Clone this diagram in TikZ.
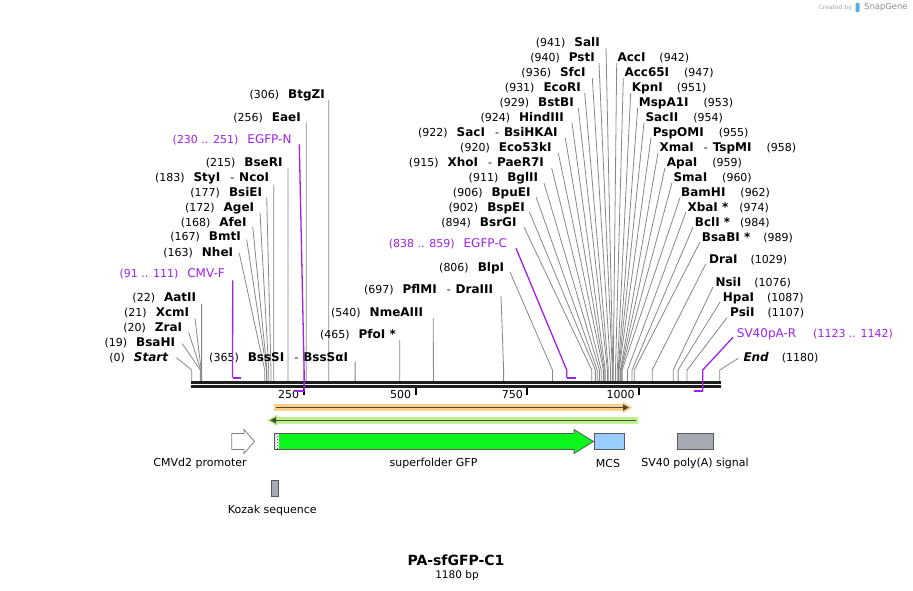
\documentclass[tikz,border=0pt]{standalone}
\usepackage{fontspec}
\setmainfont{DejaVu Sans}
\usepackage{tikz}
\usetikzlibrary{arrows.meta,patterns}
\definecolor{primerviolet}{RGB}{160,32,240}
\definecolor{cutgray}{RGB}{135,135,135}
\definecolor{gfpgreen}{RGB}{12,245,28}
\definecolor{mcsblue}{RGB}{153,204,255}
\definecolor{polyagray}{RGB}{166,170,178}
\definecolor{orfband}{RGB}{255,208,135}
\definecolor{orfbandtwo}{RGB}{192,240,140}
\definecolor{orfline}{RGB}{75,72,60}
\definecolor{logoblue}{RGB}{90,175,235}
\newcommand{\enz}[1]{{\fontsize{12}{14}\selectfont\bfseries #1}}

\begin{document}
\begin{tikzpicture}[x=1pt,y=-1pt,
		lbl/.style={inner sep=0pt,text height=8.8pt,text depth=0pt,font=\fontsize{11}{13}\selectfont},
		primerlbl/.style={lbl,text=primerviolet},
		cut/.style={draw=cutgray,line width=0.8pt},
		primer/.style={draw=primerviolet,line width=1.3pt},
		primerbar/.style={draw=primerviolet,line width=2.2pt},
		backbone/.style={draw=black!88,line width=2.6pt},
		tick/.style={draw=black,line width=2pt},
		feat/.style={draw=black!65,line width=0.8pt},
		featlbl/.style={inner sep=0pt,font=\fontsize{11}{13}\selectfont}]
		\useasboundingbox (0,0) rectangle (913,591);
		%snittsteder langs sekvensen
		\foreach \p in {0,19,20,21,22,91,111,163,167,168,172,177,183,215,230,251,256,306,365,465,540,697,806,838,859,894,902,906,911,915,920,922,924,929,931,936,940,941,942,947,951,953,954,955,958,959,960,962,974,984,989,1029,1076,1087,1107,1123,1142,1180}
			\coordinate (s\p) at ({191.8+0.4474*\p},370);
		\coordinate (bb) at (0,381.3);
		\coordinate (pf) at (0,377.7);
		\coordinate (pr) at (0,391);

		%venstre side
		\node[lbl,anchor=east] (startlbl) at (168.3,356.7) {(0)\hspace{9pt}\enz{\itshape Start}};
		\draw[cut] ([shift={(8,1)}]startlbl.east) -- (s0) -- (s0 |- bb);
		\node[lbl,anchor=east] (bsahi) at (175.3,341.7) {(19)\hspace{9pt}\enz{BsaHI}};
		\draw[cut] ([shift={(7,2)}]bsahi.east) -- (s19) -- (s19 |- bb);
		\node[lbl,anchor=east] (zrai) at (182.3,326.7) {(20)\hspace{9pt}\enz{ZraI}};
		\draw[cut] ([shift={(6.4,5.7)}]zrai.east) -- (s20) -- (s20 |- bb);
		\node[lbl,anchor=east] (xcmi) at (189.3,311.7) {(21)\hspace{9pt}\enz{XcmI}};
		\draw[cut] ([shift={(5.7,6.7)}]xcmi.east) -- (s21) -- (s21 |- bb);
		\node[lbl,anchor=east] (aatii) at (196.3,296.7) {(22)\hspace{9pt}\enz{AatII}};
		\draw[cut] ([shift={(5.3,7)}]aatii.east) -- (s22) -- (s22 |- bb);
		\node[lbl,anchor=east] (nhei) at (233.3,251.7) {(163)\hspace{9pt}\enz{NheI}};
		\draw[cut] ([shift={(6,1.6)}]nhei.east) -- (s163) -- (s163 |- bb);
		\node[lbl,anchor=east] (bmti) at (241,236.5) {(167)\hspace{9pt}\enz{BmtI}};
		\draw[cut] ([shift={(5.7,3)}]bmti.east) -- (s167) -- (s167 |- bb);
		\node[lbl,anchor=east] (afei) at (246.7,221.7) {(168)\hspace{9pt}\enz{AfeI}};
		\draw[cut] ([shift={(6,5)}]afei.east) -- (s168) -- (s168 |- bb);
		\node[lbl,anchor=east] (agei) at (254.3,206.7) {(172)\hspace{9pt}\enz{AgeI}};
		\draw[cut] ([shift={(5.7,6)}]agei.east) -- (s172) -- (s172 |- bb);
		\node[lbl,anchor=east] (bsiei) at (262.3,191.7) {(177)\hspace{9pt}\enz{BsiEI}};
		\draw[cut] ([shift={(4.4,5.6)}]bsiei.east) -- (s177) -- (s177 |- bb);
		\node[lbl,anchor=east] (styi) at (269.3,176.7) {(183)\hspace{9pt}\enz{StyI}\hspace{10pt}-\hspace{5pt}\enz{NcoI}};
		\draw[cut] ([shift={(4.4,8)}]styi.east) -- (s183) -- (s183 |- bb);
		\node[lbl,anchor=east] (bseri) at (282.7,161.7) {(215)\hspace{9pt}\enz{BseRI}};
		\draw[cut] ([shift={(5.3,7)}]bseri.east) -- (s215) -- (s215 |- bb);
		\node[lbl,anchor=east] (eaei) at (301,116.7) {(256)\hspace{9pt}\enz{EaeI}};
		\draw[cut] ([shift={(5.3,6)}]eaei.east) -- (s256) -- (s256 |- bb);
		\node[lbl,anchor=east] (btgzi) at (325,94) {(306)\hspace{9pt}\enz{BtgZI}};
		\draw[cut] ([shift={(3.7,6)}]btgzi.east) -- (s306) -- (s306 |- bb);
		\node[lbl,anchor=east] (bsssi) at (348.3,356.7) {(365)\hspace{9pt}\enz{BssSI}\hspace{10pt}-\hspace{5pt}\enz{BssSαI}};
		\draw[cut] ([shift={(6.8,5)}]bsssi.east) -- (s365) -- (s365 |- bb);
		\node[lbl,anchor=east] (pfoi) at (396,334) {(465)\hspace{9pt}\enz{PfoI *}};
		\draw[cut] ([shift={(3.8,6)}]pfoi.east) -- (s465) -- (s465 |- bb);
		\node[lbl,anchor=east] (nmeaiii) at (423.3,312) {(540)\hspace{9pt}\enz{NmeAIII}};
		\draw[cut] ([shift={(10,6)}]nmeaiii.east) -- (s540) -- (s540 |- bb);
		\node[lbl,anchor=east] (pflmi) at (493.3,289) {(697)\hspace{9pt}\enz{PflMI}\hspace{10pt}-\hspace{5pt}\enz{DraIII}};
		\draw[cut] ([shift={(7.7,7)}]pflmi.east) -- (s697) -- (s697 |- bb);
		\node[lbl,anchor=east] (blpi) at (504.3,266.7) {(806)\hspace{9pt}\enz{BlpI}};
		\draw[cut] ([shift={(5.7,5.3)}]blpi.east) -- (s806) -- (s806 |- bb);
		\node[lbl,anchor=east] (bsrgi) at (516.7,221.7) {(894)\hspace{9pt}\enz{BsrGI}};
		\draw[cut] ([shift={(7.3,5.3)}]bsrgi.east) -- (s894) -- (s894 |- bb);
		\node[lbl,anchor=east] (bspei) at (525,206.7) {(902)\hspace{9pt}\enz{BspEI}};
		\draw[cut] ([shift={(4.3,5)}]bspei.east) -- (s902) -- (s902 |- bb);
		\node[lbl,anchor=east] (bpuei) at (530.7,191.7) {(906)\hspace{9pt}\enz{BpuEI}};
		\draw[cut] ([shift={(5.5,5.5)}]bpuei.east) -- (s906) -- (s906 |- bb);
		\node[lbl,anchor=east] (bglii) at (538.3,176.7) {(911)\hspace{9pt}\enz{BglII}};
		\draw[cut] ([shift={(5.7,6.3)}]bglii.east) -- (s911) -- (s911 |- bb);
		\node[lbl,anchor=east] (xhoi) at (544,161.7) {(915)\hspace{9pt}\enz{XhoI}\hspace{10pt}-\hspace{5pt}\enz{PaeR7I}};
		\draw[cut] ([shift={(7.7,6.3)}]xhoi.east) -- (s915) -- (s915 |- bb);
		\node[lbl,anchor=east] (ecoki) at (551.7,146.7) {(920)\hspace{9pt}\enz{Eco53kI}};
		\draw[cut] ([shift={(6.6,6.3)}]ecoki.east) -- (s920) -- (s920 |- bb);
		\node[lbl,anchor=east] (saci) at (557.7,131.7) {(922)\hspace{9pt}\enz{SacI}\hspace{10pt}-\hspace{5pt}\enz{BsiHKAI}};
		\draw[cut] ([shift={(7.6,6.3)}]saci.east) -- (s922) -- (s922 |- bb);
		\node[lbl,anchor=east] (hindiii) at (564,116.7) {(924)\hspace{9pt}\enz{HindIII}};
		\draw[cut] ([shift={(8,6.3)}]hindiii.east) -- (s924) -- (s924 |- bb);
		\node[lbl,anchor=east] (bstbi) at (574,101.7) {(929)\hspace{9pt}\enz{BstBI}};
		\draw[cut] ([shift={(4.3,6.3)}]bstbi.east) -- (s929) -- (s929 |- bb);
		\node[lbl,anchor=east] (ecori) at (581,87) {(931)\hspace{9pt}\enz{EcoRI}};
		\draw[cut] ([shift={(3.7,6)}]ecori.east) -- (s931) -- (s931 |- bb);
		\node[lbl,anchor=east] (sfci) at (585.7,72) {(936)\hspace{9pt}\enz{SfcI}};
		\draw[cut] ([shift={(6.6,6)}]sfci.east) -- (s936) -- (s936 |- bb);
		\node[lbl,anchor=east] (psti) at (595,57) {(940)\hspace{9pt}\enz{PstI}};
		\draw[cut] ([shift={(4,6)}]psti.east) -- (s940) -- (s940 |- bb);
		\node[lbl,anchor=east] (sali) at (600,42) {(941)\hspace{9pt}\enz{SalI}};
		\draw[cut] ([shift={(6,6)}]sali.east) -- (s941) -- (s941 |- bb);

		%hoyre side
		\node[lbl,anchor=west] (acci) at (617.3,57) {\enz{AccI}\hspace{14pt}(942)};
		\draw[cut] ([shift={(-0.6,6)}]acci.west) -- (s942) -- (s942 |- bb);
		\node[lbl,anchor=west] (acci65) at (624.3,72) {\enz{Acc65I}\hspace{15pt}(947)};
		\draw[cut] ([shift={(-1,6)}]acci65.west) -- (s947) -- (s947 |- bb);
		\node[lbl,anchor=west] (kpni) at (631.7,87) {\enz{KpnI}\hspace{14pt}(951)};
		\draw[cut] ([shift={(-1,6)}]kpni.west) -- (s951) -- (s951 |- bb);
		\node[lbl,anchor=west] (mspai) at (638.7,101.7) {\enz{MspA1I}\hspace{15pt}(953)};
		\draw[cut] ([shift={(-1,6)}]mspai.west) -- (s953) -- (s953 |- bb);
		\node[lbl,anchor=west] (sacii) at (645.3,116.7) {\enz{SacII}\hspace{15pt}(954)};
		\draw[cut] ([shift={(-1.3,6)}]sacii.west) -- (s954) -- (s954 |- bb);
		\node[lbl,anchor=west] (pspomi) at (652.7,131.7) {\enz{PspOMI}\hspace{15pt}(955)};
		\draw[cut] ([shift={(-1.7,6)}]pspomi.west) -- (s955) -- (s955 |- bb);
		\node[lbl,anchor=west] (xmai) at (659.3,146.7) {\enz{XmaI}\hspace{10pt}-\hspace{5pt}\enz{TspMI}\hspace{15pt}(958)};
		\draw[cut] ([shift={(-1.3,6)}]xmai.west) -- (s958) -- (s958 |- bb);
		\node[lbl,anchor=west] (apai) at (666.7,161.7) {\enz{ApaI}\hspace{15pt}(959)};
		\draw[cut] ([shift={(-1.7,6)}]apai.west) -- (s959) -- (s959 |- bb);
		\node[lbl,anchor=west] (smai) at (673.3,176.7) {\enz{SmaI}\hspace{15pt}(960)};
		\draw[cut] ([shift={(-1.3,6)}]smai.west) -- (s960) -- (s960 |- bb);
		\node[lbl,anchor=west] (bamhi) at (681,191.7) {\enz{BamHI}\hspace{15pt}(962)};
		\draw[cut] ([shift={(-1,6)}]bamhi.west) -- (s962) -- (s962 |- bb);
		\node[lbl,anchor=west] (xbai) at (687.3,206.7) {\enz{XbaI *}\hspace{11pt}(974)};
		\draw[cut] ([shift={(-1.3,5.3)}]xbai.west) -- (s974) -- (s974 |- bb);
		\node[lbl,anchor=west] (bcli) at (694.7,221.7) {\enz{BclI *}\hspace{10pt}(984)};
		\draw[cut] ([shift={(-1.7,5.3)}]bcli.west) -- (s984) -- (s984 |- bb);
		\node[lbl,anchor=west] (bsabi) at (701.7,236.7) {\enz{BsaBI *}\hspace{13pt}(989)};
		\draw[cut] ([shift={(-1.7,5.3)}]bsabi.west) -- (s989) -- (s989 |- bb);
		\node[lbl,anchor=west] (drai) at (709,259) {\enz{DraI}\hspace{13pt}(1029)};
		\draw[cut] ([shift={(-3.3,5)}]drai.west) -- (s1029) -- (s1029 |- bb);
		\node[lbl,anchor=west] (nsii) at (715.3,281.7) {\enz{NsiI}\hspace{13pt}(1076)};
		\draw[cut] ([shift={(-2.3,5.3)}]nsii.west) -- (s1076) -- (s1076 |- bb);
		\node[lbl,anchor=west] (hpai) at (722.7,296.7) {\enz{HpaI}\hspace{13pt}(1087)};
		\draw[cut] ([shift={(-2.7,5.3)}]hpai.west) -- (s1087) -- (s1087 |- bb);
		\node[lbl,anchor=west] (psii) at (730,311.7) {\enz{PsiI}\hspace{13pt}(1107)};
		\draw[cut] ([shift={(-3,6)}]psii.west) -- (s1107) -- (s1107 |- bb);
		\node[lbl,anchor=west] (endlbl) at (743.3,356.7) {\enz{\itshape End}\hspace{13pt}(1180)};
		\draw[cut] ([shift={(-5,1.6)}]endlbl.west) -- (s1180) -- (s1180 |- bb);

		%ryggrad og skala
		\draw[backbone] (191.3,382.6) -- (720.8,382.6);
		\draw[backbone] (191.3,386.6) -- (720.8,386.6);
		\foreach \t in {250,500,750,1000}{
			\draw[tick] ({191.8+0.4474*\t},388) -- ++(0,7);
			\node[lbl,anchor=east] (tl\t) at ({187.5+0.4474*\t},394.5) {\t};
		}

		%primere
		\node[primerlbl,anchor=east] (cmvf) at (225,273.3) {(91 .. 111)\hspace{9pt}{\fontsize{12}{14}\selectfont CMV-F}};
		\draw[primer] ([shift={(7.7,7)}]cmvf.east) -- (s91 |- pf);
		\draw[primerbar] (s91 |- pf) -- (s111 |- pf);
		\node[primerlbl,anchor=east] (egfpn) at (291.7,138.7) {(230 .. 251)\hspace{9pt}{\fontsize{12}{14}\selectfont EGFP-N}};
		\draw[primer] ([shift={(7.6,5.6)}]egfpn.east) -- (s251) -- (s251 |- pr);
		\draw[primerbar] (s230 |- pr) -- (s251 |- pr);
		\node[primerlbl,anchor=east] (egfpc) at (507.3,243.3) {(838 .. 859)\hspace{9pt}{\fontsize{12}{14}\selectfont EGFP-C}};
		\draw[primer] ([shift={(8.7,5)}]egfpc.east) -- (s838) -- (s838 |- pf);
		\draw[primerbar] (s838 |- pf) -- (s859 |- pf);
		\node[primerlbl,anchor=west] (svpar) at (736.7,333.3) {{\fontsize{12}{14}\selectfont SV40pA-R}\hspace{17pt}(1123 .. 1142)};
		\draw[primer] ([shift={(-3.7,4)}]svpar.west) -- (s1142) -- (s1142 |- pr);
		\draw[primerbar] (s1123 |- pr) -- (s1142 |- pr);

		%leserammer
		\filldraw[fill=orfband,draw=orfband!85!orange,line width=0.5pt] (274.3,404.3) -- (623,404.3) -- (623,402.3) -- (631.5,407.5) -- (623,412.7) -- (623,410.7) -- (274.3,410.7) -- cycle;
		\draw[orfline,line width=1.6pt,-{Triangle[length=6pt,width=6pt]}] (276,407.5) -- (629,407.5);
		\filldraw[fill=orfbandtwo,draw=orfbandtwo!85!green,line width=0.5pt] (637.7,417.3) -- (277,417.3) -- (277,415.3) -- (267.8,420.3) -- (277,425.3) -- (277,423.3) -- (637.7,423.3) -- cycle;
		\draw[orfline,line width=1.6pt,-{Triangle[length=6pt,width=6pt]}] (636,420.3) -- (270,420.3);

		%elementer
		\filldraw[feat,fill=white,draw=black!50] (231.7,433.5) -- (244,433.5) -- (244,429.5) -- (254.5,441.5) -- (244,453.5) -- (244,449.5) -- (231.7,449.5) -- cycle;
		\filldraw[feat,fill=gfpgreen] (274.4,433.5) -- (574,433.5) -- (574,429.5) -- (593.5,441.5) -- (574,453.5) -- (574,449.5) -- (274.4,449.5) -- cycle;
		\fill[white] (274.8,433.9) rectangle (278.6,449.1);
		\fill[pattern=crosshatch dots,pattern color=black!80] (274.8,433.9) rectangle (278.6,449.1);
		\filldraw[feat,fill=mcsblue] (594.7,433.5) rectangle (624.3,449.5);
		\filldraw[feat,fill=polyagray] (677,433.5) rectangle (713.7,449.5);
		\filldraw[feat,fill=polyagray] (271.7,480) rectangle (278,496.7);
		\node[featlbl] (cmvlbl) at (200,463) {CMVd2 promoter};
		\node[featlbl] (gfplbl) at (433.5,463) {superfolder GFP};
		\node[featlbl] (mcslbl) at (608,463) {MCS};
		\node[featlbl] (polyalbl) at (695,463) {SV40 poly(A) signal};
		\node[featlbl] (kozaklbl) at (272.3,510) {Kozak sequence};

		%tittel
		\node[inner sep=0pt,font=\fontsize{14}{16}\selectfont\bfseries] (title) at (456,560.7) {PA-sfGFP-C1};
		\node[inner sep=0pt,font=\fontsize{10.5}{12}\selectfont] (size) at (457,575.5) {1180 bp};
		\node[inner sep=0pt,anchor=east,text=black!35,font=\fontsize{6}{7}\selectfont] (made) at (852,7.5) {Created by};
		\fill[logoblue,rounded corners=0.8pt] (855.5,3) rectangle (859.5,12);
		\node[inner sep=0pt,anchor=west,text=black!45,font=\fontsize{8.4}{10}\selectfont] (sg) at (864,7.5) {SnapGene};
	\end{tikzpicture}
\end{document}
